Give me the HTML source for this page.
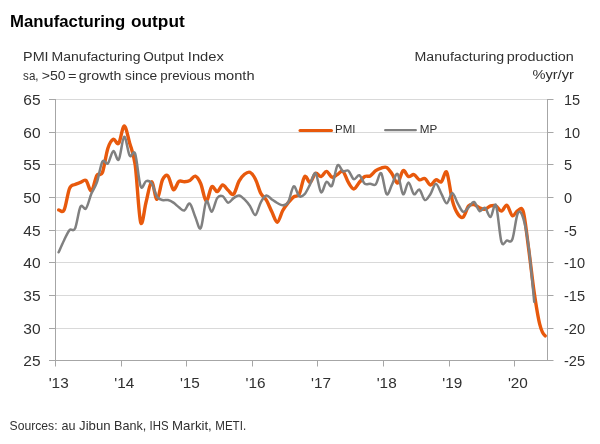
<!DOCTYPE html>
<html lang="en">
<head>
<meta charset="utf-8">
<title>Manufacturing output</title>
<style>html,body{margin:0;padding:0;background:#fff;}body{width:600px;height:444px;overflow:hidden;}</style>
</head>
<body>
<svg width="600" height="444" viewBox="0 0 600 444" style="display:block">
<rect x="0" y="0" width="600" height="444" fill="#ffffff"/>
<line x1="55.5" y1="99.50" x2="547.5" y2="99.50" stroke="#d9d9d9" stroke-width="1"/>
<line x1="55.5" y1="132.50" x2="547.5" y2="132.50" stroke="#d9d9d9" stroke-width="1"/>
<line x1="55.5" y1="164.50" x2="547.5" y2="164.50" stroke="#d9d9d9" stroke-width="1"/>
<line x1="55.5" y1="197.50" x2="547.5" y2="197.50" stroke="#d9d9d9" stroke-width="1"/>
<line x1="55.5" y1="230.50" x2="547.5" y2="230.50" stroke="#d9d9d9" stroke-width="1"/>
<line x1="55.5" y1="262.50" x2="547.5" y2="262.50" stroke="#d9d9d9" stroke-width="1"/>
<line x1="55.5" y1="295.50" x2="547.5" y2="295.50" stroke="#d9d9d9" stroke-width="1"/>
<line x1="55.5" y1="328.50" x2="547.5" y2="328.50" stroke="#d9d9d9" stroke-width="1"/>
<line x1="55.50" y1="99.00" x2="55.50" y2="361.00" stroke="#a6a6a6" stroke-width="1"/>
<line x1="547.50" y1="99.00" x2="547.50" y2="361.00" stroke="#a6a6a6" stroke-width="1"/>
<line x1="55.00" y1="360.50" x2="548.00" y2="360.50" stroke="#a6a6a6" stroke-width="1"/>
<line x1="49.0" y1="99.50" x2="55.5" y2="99.50" stroke="#a6a6a6" stroke-width="1"/>
<line x1="547.5" y1="99.50" x2="553.5" y2="99.50" stroke="#a6a6a6" stroke-width="1"/>
<line x1="49.0" y1="132.50" x2="55.5" y2="132.50" stroke="#a6a6a6" stroke-width="1"/>
<line x1="547.5" y1="132.50" x2="553.5" y2="132.50" stroke="#a6a6a6" stroke-width="1"/>
<line x1="49.0" y1="164.50" x2="55.5" y2="164.50" stroke="#a6a6a6" stroke-width="1"/>
<line x1="547.5" y1="164.50" x2="553.5" y2="164.50" stroke="#a6a6a6" stroke-width="1"/>
<line x1="49.0" y1="197.50" x2="55.5" y2="197.50" stroke="#a6a6a6" stroke-width="1"/>
<line x1="547.5" y1="197.50" x2="553.5" y2="197.50" stroke="#a6a6a6" stroke-width="1"/>
<line x1="49.0" y1="230.50" x2="55.5" y2="230.50" stroke="#a6a6a6" stroke-width="1"/>
<line x1="547.5" y1="230.50" x2="553.5" y2="230.50" stroke="#a6a6a6" stroke-width="1"/>
<line x1="49.0" y1="262.50" x2="55.5" y2="262.50" stroke="#a6a6a6" stroke-width="1"/>
<line x1="547.5" y1="262.50" x2="553.5" y2="262.50" stroke="#a6a6a6" stroke-width="1"/>
<line x1="49.0" y1="295.50" x2="55.5" y2="295.50" stroke="#a6a6a6" stroke-width="1"/>
<line x1="547.5" y1="295.50" x2="553.5" y2="295.50" stroke="#a6a6a6" stroke-width="1"/>
<line x1="49.0" y1="328.50" x2="55.5" y2="328.50" stroke="#a6a6a6" stroke-width="1"/>
<line x1="547.5" y1="328.50" x2="553.5" y2="328.50" stroke="#a6a6a6" stroke-width="1"/>
<line x1="49.0" y1="360.50" x2="55.5" y2="360.50" stroke="#a6a6a6" stroke-width="1"/>
<line x1="547.5" y1="360.50" x2="553.5" y2="360.50" stroke="#a6a6a6" stroke-width="1"/>
<line x1="55.50" y1="360.50" x2="55.50" y2="366.50" stroke="#a6a6a6" stroke-width="1"/>
<line x1="121.50" y1="360.50" x2="121.50" y2="366.50" stroke="#a6a6a6" stroke-width="1"/>
<line x1="186.50" y1="360.50" x2="186.50" y2="366.50" stroke="#a6a6a6" stroke-width="1"/>
<line x1="252.50" y1="360.50" x2="252.50" y2="366.50" stroke="#a6a6a6" stroke-width="1"/>
<line x1="317.50" y1="360.50" x2="317.50" y2="366.50" stroke="#a6a6a6" stroke-width="1"/>
<line x1="383.50" y1="360.50" x2="383.50" y2="366.50" stroke="#a6a6a6" stroke-width="1"/>
<line x1="449.50" y1="360.50" x2="449.50" y2="366.50" stroke="#a6a6a6" stroke-width="1"/>
<line x1="514.50" y1="360.50" x2="514.50" y2="366.50" stroke="#a6a6a6" stroke-width="1"/>
<path d="M58.63,209.86C59.54,209.88 62.28,213.58 64.10,209.99C65.92,206.40 67.74,192.57 69.57,188.31C71.39,184.04 73.21,185.37 75.03,184.39C76.86,183.41 78.68,183.08 80.50,182.43C82.32,181.78 84.14,179.06 85.97,180.47C87.79,181.89 89.61,191.79 91.43,190.92C93.26,190.05 95.08,178.30 96.90,175.25C98.72,172.20 100.54,177.10 102.37,172.64C104.19,168.17 106.01,154.03 107.83,148.47C109.66,142.92 111.48,140.20 113.30,139.33C115.12,138.46 116.94,145.48 118.77,143.25C120.59,141.02 122.41,125.95 124.23,125.95C126.06,125.95 127.88,136.78 129.70,143.25C131.52,149.73 133.34,151.63 135.17,164.80C136.99,177.97 138.81,216.06 140.63,222.26C142.46,228.47 144.28,208.77 146.10,202.02C147.92,195.27 149.74,182.21 151.57,181.78C153.39,181.34 155.21,199.74 157.03,199.41C158.86,199.08 160.68,183.74 162.50,179.82C164.32,175.90 166.14,174.27 167.97,175.90C169.79,177.53 171.61,188.69 173.43,189.61C175.26,190.54 177.08,182.76 178.90,181.45C180.72,180.15 182.54,181.94 184.37,181.78C186.19,181.61 188.01,181.40 189.83,180.47C191.66,179.55 193.48,175.68 195.30,176.23C197.12,176.77 198.94,179.60 200.77,183.74C202.59,187.87 204.41,200.55 206.23,201.04C208.06,201.53 209.88,188.25 211.70,186.68C213.52,185.10 215.34,191.85 217.17,191.57C218.99,191.30 220.81,185.26 222.63,185.04C224.46,184.83 226.28,188.74 228.10,190.27C229.92,191.79 231.74,195.71 233.57,194.19C235.39,192.66 237.21,184.44 239.03,181.12C240.86,177.81 242.68,175.74 244.50,174.27C246.32,172.80 248.14,171.49 249.97,172.31C251.79,173.13 253.61,175.63 255.43,179.17C257.26,182.70 259.08,190.05 260.90,193.53C262.72,197.01 264.54,197.01 266.37,200.06C268.19,203.11 270.01,208.12 271.83,211.82C273.66,215.52 275.48,222.48 277.30,222.26C279.12,222.05 280.94,213.77 282.77,210.51C284.59,207.25 286.41,204.96 288.23,202.67C290.06,200.39 291.88,198.21 293.70,196.80C295.52,195.38 297.34,197.56 299.17,194.19C300.99,190.81 302.81,178.51 304.63,176.55C306.46,174.59 308.28,182.98 310.10,182.43C311.92,181.89 313.74,174.27 315.57,173.29C317.39,172.31 319.21,176.88 321.03,176.55C322.86,176.23 324.68,171.22 326.50,171.33C328.32,171.44 330.14,176.66 331.97,177.21C333.79,177.75 335.61,175.57 337.43,174.59C339.26,173.62 341.08,170.02 342.90,171.33C344.72,172.64 346.54,179.49 348.37,182.43C350.19,185.37 352.01,188.96 353.83,188.96C355.66,188.96 357.48,184.50 359.30,182.43C361.12,180.36 362.94,177.64 364.77,176.55C366.59,175.47 368.41,176.88 370.23,175.90C372.06,174.92 373.88,171.98 375.70,170.68C377.52,169.37 379.34,168.61 381.17,168.06C382.99,167.52 384.81,166.43 386.63,167.41C388.46,168.39 390.28,171.33 392.10,173.94C393.92,176.55 395.74,183.63 397.57,183.08C399.39,182.54 401.21,171.77 403.03,170.68C404.86,169.59 406.68,175.90 408.50,176.55C410.32,177.21 412.14,174.05 413.97,174.59C415.79,175.14 417.61,179.17 419.43,179.82C421.26,180.47 423.08,177.64 424.90,178.51C426.72,179.38 428.54,184.83 430.37,185.04C432.19,185.26 434.01,180.36 435.83,179.82C437.66,179.27 439.48,183.03 441.30,181.78C443.12,180.53 444.94,169.26 446.77,172.31C448.59,175.36 450.41,193.15 452.23,200.06C454.06,206.97 455.88,210.95 457.70,213.77C459.52,216.60 461.34,218.35 463.17,217.04C464.99,215.73 466.81,208.01 468.63,205.94C470.46,203.87 472.28,204.31 474.10,204.63C475.92,204.96 477.74,207.14 479.57,207.90C481.39,208.66 483.21,209.53 485.03,209.20C486.86,208.88 488.68,206.48 490.50,205.94C492.32,205.39 494.14,205.07 495.97,205.94C497.79,206.81 499.61,211.27 501.43,211.16C503.26,211.05 505.08,204.52 506.90,205.29C508.72,206.05 510.54,214.86 512.37,215.73C514.19,216.60 516.01,211.16 517.83,210.51C519.66,209.86 521.48,205.29 523.30,211.82C525.12,218.35 526.94,236.19 528.77,249.69C530.59,263.19 532.41,280.38 534.23,292.79C536.06,305.19 537.88,316.95 539.70,324.13C541.52,331.31 542.77,334.09 545.17,335.89" fill="none" stroke="#e8590c" stroke-width="3.4" stroke-linecap="round" stroke-linejoin="round"/>
<path d="M58.63,252.30C59.54,250.29 62.28,243.92 64.10,240.22C65.92,236.52 67.74,232.06 69.57,230.10C71.39,228.14 73.21,232.39 75.03,228.47C76.86,224.55 78.68,209.91 80.50,206.59C82.32,203.27 84.14,210.73 85.97,208.55C87.79,206.37 89.61,197.89 91.43,193.53C93.26,189.18 95.08,187.76 96.90,182.43C98.72,177.10 100.54,164.69 102.37,161.53C104.19,158.38 106.01,165.24 107.83,163.49C109.66,161.75 111.48,151.74 113.30,151.09C115.12,150.43 116.94,161.97 118.77,159.58C120.59,157.18 122.41,137.37 124.23,136.72C126.06,136.07 127.88,152.83 129.70,155.66C131.52,158.49 133.34,148.58 135.17,153.70C136.99,158.81 138.81,181.78 140.63,186.35C142.46,190.92 144.28,181.67 146.10,181.12C147.92,180.58 149.74,180.47 151.57,183.08C153.39,185.70 155.21,193.97 157.03,196.80C158.86,199.63 160.68,199.52 162.50,200.06C164.32,200.61 166.14,199.63 167.97,200.06C169.79,200.50 171.61,201.48 173.43,202.67C175.26,203.87 177.08,205.94 178.90,207.25C180.72,208.55 182.54,211.11 184.37,210.51C186.19,209.91 188.01,202.57 189.83,203.65C191.66,204.74 193.48,212.96 195.30,217.04C197.12,221.12 198.94,230.75 200.77,228.14C202.59,225.53 204.41,204.09 206.23,201.37C208.06,198.65 209.88,212.36 211.70,211.82C213.52,211.27 215.34,200.72 217.17,198.10C218.99,195.49 220.81,195.38 222.63,196.14C224.46,196.91 226.28,202.35 228.10,202.67C229.92,203.00 231.74,199.30 233.57,198.10C235.39,196.91 237.21,195.27 239.03,195.49C240.86,195.71 242.68,197.67 244.50,199.41C246.32,201.15 248.14,203.33 249.97,205.94C251.79,208.55 253.61,215.73 255.43,215.08C257.26,214.43 259.08,205.29 260.90,202.02C262.72,198.76 264.54,195.93 266.37,195.49C268.19,195.06 270.01,198.16 271.83,199.41C273.66,200.66 275.48,202.02 277.30,203.00C279.12,203.98 280.94,205.45 282.77,205.29C284.59,205.12 286.41,205.18 288.23,202.02C290.06,198.86 291.88,187.33 293.70,186.35C295.52,185.37 297.34,194.84 299.17,196.14C300.99,197.45 302.81,196.14 304.63,194.19C306.46,192.23 308.28,187.87 310.10,184.39C311.92,180.91 313.74,171.98 315.57,173.29C317.39,174.59 319.21,190.81 321.03,192.23C322.86,193.64 324.68,182.87 326.50,181.78C328.32,180.69 330.14,188.42 331.97,185.70C333.79,182.98 335.61,167.85 337.43,165.45C339.26,163.06 341.08,170.46 342.90,171.33C344.72,172.20 346.54,169.37 348.37,170.68C350.19,171.98 352.01,178.40 353.83,179.17C355.66,179.93 357.48,174.49 359.30,175.25C361.12,176.01 362.94,182.32 364.77,183.74C366.59,185.15 368.41,183.63 370.23,183.74C372.06,183.85 373.88,186.13 375.70,184.39C377.52,182.65 379.34,171.66 381.17,173.29C382.99,174.92 384.81,192.33 386.63,194.19C388.46,196.04 390.28,187.76 392.10,184.39C393.92,181.02 395.74,172.31 397.57,173.94C399.39,175.57 401.21,192.77 403.03,194.19C404.86,195.60 406.68,182.43 408.50,182.43C410.32,182.43 412.14,192.99 413.97,194.19C415.79,195.38 417.61,188.63 419.43,189.61C421.26,190.59 423.08,199.30 424.90,200.06C426.72,200.82 428.54,196.91 430.37,194.19C432.19,191.46 434.01,183.85 435.83,183.74C437.66,183.63 439.48,190.27 441.30,193.53C443.12,196.80 444.94,203.44 446.77,203.33C448.59,203.22 450.41,192.88 452.23,192.88C454.06,192.88 455.88,200.17 457.70,203.33C459.52,206.48 461.34,211.16 463.17,211.82C464.99,212.47 466.81,208.88 468.63,207.25C470.46,205.61 472.28,201.37 474.10,202.02C475.92,202.67 477.74,210.18 479.57,211.16C481.39,212.14 483.21,206.92 485.03,207.90C486.86,208.88 488.68,217.48 490.50,217.04C492.32,216.60 494.14,201.15 495.97,205.29C497.79,209.42 499.61,235.98 501.43,241.85C503.26,247.73 505.08,240.98 506.90,240.55C508.72,240.11 510.54,243.81 512.37,239.24C514.19,234.67 516.01,216.60 517.83,213.12C519.66,209.64 521.48,212.58 523.30,218.35C525.12,224.11 526.94,233.80 528.77,247.73C530.59,261.66 533.32,292.90 534.23,301.93" fill="none" stroke="#808080" stroke-width="2.5" stroke-linecap="round" stroke-linejoin="round"/>
<line x1="300.0" y1="130.5" x2="331.5" y2="130.5" stroke="#e8590c" stroke-width="3.0" stroke-linecap="round"/>
<line x1="385.2" y1="130.2" x2="415.8" y2="130.2" stroke="#808080" stroke-width="2.3" stroke-linecap="round"/>
<text x="335.0" y="132.5" font-family="Liberation Sans, Arial, sans-serif" font-size="10.3" font-weight="normal" text-anchor="start" fill="#303030" textLength="20.4" lengthAdjust="spacingAndGlyphs">PMI</text>
<text x="419.8" y="132.5" font-family="Liberation Sans, Arial, sans-serif" font-size="10.3" font-weight="normal" text-anchor="start" fill="#303030" textLength="17.5" lengthAdjust="spacingAndGlyphs">MP</text>
<text y="27.0" font-family="Liberation Sans, Arial, sans-serif" font-size="15.9" font-weight="bold" fill="#000000"><tspan x="10.1" textLength="115.2" lengthAdjust="spacingAndGlyphs">Manufacturing</tspan> <tspan x="131.0" textLength="53.7" lengthAdjust="spacingAndGlyphs">output</tspan></text>
<text y="61.4" font-family="Liberation Sans, Arial, sans-serif" font-size="12.0" font-weight="normal" fill="#303030"><tspan x="23.1" textLength="25.5" lengthAdjust="spacingAndGlyphs">PMI</tspan> <tspan x="51.5" textLength="89.0" lengthAdjust="spacingAndGlyphs">Manufacturing</tspan> <tspan x="143.2" textLength="40.7" lengthAdjust="spacingAndGlyphs">Output</tspan> <tspan x="187.8" textLength="36.1" lengthAdjust="spacingAndGlyphs">Index</tspan></text>
<text y="79.5" font-family="Liberation Sans, Arial, sans-serif" font-size="12.0" font-weight="normal" fill="#303030"><tspan x="23.1" textLength="15.5" lengthAdjust="spacingAndGlyphs">sa,</tspan> <tspan x="41.7" textLength="23.9" lengthAdjust="spacingAndGlyphs">&gt;50</tspan> <tspan x="68.1" textLength="8.5" lengthAdjust="spacingAndGlyphs">=</tspan> <tspan x="78.7" textLength="42.6" lengthAdjust="spacingAndGlyphs">growth</tspan> <tspan x="125.1" textLength="32.2" lengthAdjust="spacingAndGlyphs">since</tspan> <tspan x="160.3" textLength="50.3" lengthAdjust="spacingAndGlyphs">previous</tspan> <tspan x="213.9" textLength="40.7" lengthAdjust="spacingAndGlyphs">month</tspan></text>
<text y="61.3" font-family="Liberation Sans, Arial, sans-serif" font-size="12.0" font-weight="normal" fill="#303030"><tspan x="414.5" textLength="89.7" lengthAdjust="spacingAndGlyphs">Manufacturing</tspan> <tspan x="506.7" textLength="67.2" lengthAdjust="spacingAndGlyphs">production</tspan></text>
<text x="532.4" y="79.3" font-family="Liberation Sans, Arial, sans-serif" font-size="12.0" font-weight="normal" text-anchor="start" fill="#303030" textLength="41.5" lengthAdjust="spacingAndGlyphs">%yr/yr</text>
<text y="430.0" font-family="Liberation Sans, Arial, sans-serif" font-size="12.2" font-weight="normal" fill="#303030"><tspan x="9.6" textLength="48.0" lengthAdjust="spacingAndGlyphs">Sources:</tspan> <tspan x="61.6" textLength="14.0" lengthAdjust="spacingAndGlyphs">au</tspan> <tspan x="79.1" textLength="31.5" lengthAdjust="spacingAndGlyphs">Jibun</tspan> <tspan x="114.1" textLength="32.2" lengthAdjust="spacingAndGlyphs">Bank,</tspan> <tspan x="149.6" textLength="19.0" lengthAdjust="spacingAndGlyphs">IHS</tspan> <tspan x="172.1" textLength="39.7" lengthAdjust="spacingAndGlyphs">Markit,</tspan> <tspan x="215.3" textLength="30.8" lengthAdjust="spacingAndGlyphs">METI.</tspan></text>
<text x="23.3" y="104.6" font-family="Liberation Sans, Arial, sans-serif" font-size="14.6" font-weight="normal" text-anchor="start" fill="#303030" textLength="17.3" lengthAdjust="spacingAndGlyphs">65</text>
<text x="564.0" y="104.6" font-family="Liberation Sans, Arial, sans-serif" font-size="14.6" font-weight="normal" text-anchor="start" fill="#303030" textLength="16.2" lengthAdjust="spacingAndGlyphs">15</text>
<text x="23.3" y="137.6" font-family="Liberation Sans, Arial, sans-serif" font-size="14.6" font-weight="normal" text-anchor="start" fill="#303030" textLength="17.3" lengthAdjust="spacingAndGlyphs">60</text>
<text x="564.0" y="137.6" font-family="Liberation Sans, Arial, sans-serif" font-size="14.6" font-weight="normal" text-anchor="start" fill="#303030" textLength="16.2" lengthAdjust="spacingAndGlyphs">10</text>
<text x="23.3" y="169.6" font-family="Liberation Sans, Arial, sans-serif" font-size="14.6" font-weight="normal" text-anchor="start" fill="#303030" textLength="17.3" lengthAdjust="spacingAndGlyphs">55</text>
<text x="564.0" y="169.6" font-family="Liberation Sans, Arial, sans-serif" font-size="14.6" font-weight="normal" text-anchor="start" fill="#303030" textLength="8.1" lengthAdjust="spacingAndGlyphs">5</text>
<text x="23.3" y="202.6" font-family="Liberation Sans, Arial, sans-serif" font-size="14.6" font-weight="normal" text-anchor="start" fill="#303030" textLength="17.3" lengthAdjust="spacingAndGlyphs">50</text>
<text x="564.0" y="202.6" font-family="Liberation Sans, Arial, sans-serif" font-size="14.6" font-weight="normal" text-anchor="start" fill="#303030" textLength="8.1" lengthAdjust="spacingAndGlyphs">0</text>
<text x="23.3" y="235.6" font-family="Liberation Sans, Arial, sans-serif" font-size="14.6" font-weight="normal" text-anchor="start" fill="#303030" textLength="17.3" lengthAdjust="spacingAndGlyphs">45</text>
<text x="564.0" y="235.6" font-family="Liberation Sans, Arial, sans-serif" font-size="14.6" font-weight="normal" text-anchor="start" fill="#303030" textLength="13.0" lengthAdjust="spacingAndGlyphs">-5</text>
<text x="23.3" y="267.6" font-family="Liberation Sans, Arial, sans-serif" font-size="14.6" font-weight="normal" text-anchor="start" fill="#303030" textLength="17.3" lengthAdjust="spacingAndGlyphs">40</text>
<text x="564.0" y="267.6" font-family="Liberation Sans, Arial, sans-serif" font-size="14.6" font-weight="normal" text-anchor="start" fill="#303030" textLength="21.1" lengthAdjust="spacingAndGlyphs">-10</text>
<text x="23.3" y="300.6" font-family="Liberation Sans, Arial, sans-serif" font-size="14.6" font-weight="normal" text-anchor="start" fill="#303030" textLength="17.3" lengthAdjust="spacingAndGlyphs">35</text>
<text x="564.0" y="300.6" font-family="Liberation Sans, Arial, sans-serif" font-size="14.6" font-weight="normal" text-anchor="start" fill="#303030" textLength="21.1" lengthAdjust="spacingAndGlyphs">-15</text>
<text x="23.3" y="333.6" font-family="Liberation Sans, Arial, sans-serif" font-size="14.6" font-weight="normal" text-anchor="start" fill="#303030" textLength="17.3" lengthAdjust="spacingAndGlyphs">30</text>
<text x="564.0" y="333.6" font-family="Liberation Sans, Arial, sans-serif" font-size="14.6" font-weight="normal" text-anchor="start" fill="#303030" textLength="21.1" lengthAdjust="spacingAndGlyphs">-20</text>
<text x="23.3" y="365.6" font-family="Liberation Sans, Arial, sans-serif" font-size="14.6" font-weight="normal" text-anchor="start" fill="#303030" textLength="17.3" lengthAdjust="spacingAndGlyphs">25</text>
<text x="564.0" y="365.6" font-family="Liberation Sans, Arial, sans-serif" font-size="14.6" font-weight="normal" text-anchor="start" fill="#303030" textLength="21.1" lengthAdjust="spacingAndGlyphs">-25</text>
<text x="48.7" y="387.8" font-family="Liberation Sans, Arial, sans-serif" font-size="14.8" font-weight="normal" text-anchor="start" fill="#303030" textLength="20.0" lengthAdjust="spacingAndGlyphs">'13</text>
<text x="114.3" y="387.8" font-family="Liberation Sans, Arial, sans-serif" font-size="14.8" font-weight="normal" text-anchor="start" fill="#303030" textLength="20.0" lengthAdjust="spacingAndGlyphs">'14</text>
<text x="179.9" y="387.8" font-family="Liberation Sans, Arial, sans-serif" font-size="14.8" font-weight="normal" text-anchor="start" fill="#303030" textLength="20.0" lengthAdjust="spacingAndGlyphs">'15</text>
<text x="245.5" y="387.8" font-family="Liberation Sans, Arial, sans-serif" font-size="14.8" font-weight="normal" text-anchor="start" fill="#303030" textLength="20.0" lengthAdjust="spacingAndGlyphs">'16</text>
<text x="311.1" y="387.8" font-family="Liberation Sans, Arial, sans-serif" font-size="14.8" font-weight="normal" text-anchor="start" fill="#303030" textLength="20.0" lengthAdjust="spacingAndGlyphs">'17</text>
<text x="376.7" y="387.8" font-family="Liberation Sans, Arial, sans-serif" font-size="14.8" font-weight="normal" text-anchor="start" fill="#303030" textLength="20.0" lengthAdjust="spacingAndGlyphs">'18</text>
<text x="442.3" y="387.8" font-family="Liberation Sans, Arial, sans-serif" font-size="14.8" font-weight="normal" text-anchor="start" fill="#303030" textLength="20.0" lengthAdjust="spacingAndGlyphs">'19</text>
<text x="507.9" y="387.8" font-family="Liberation Sans, Arial, sans-serif" font-size="14.8" font-weight="normal" text-anchor="start" fill="#303030" textLength="20.0" lengthAdjust="spacingAndGlyphs">'20</text>
</svg>
</body>
</html>
